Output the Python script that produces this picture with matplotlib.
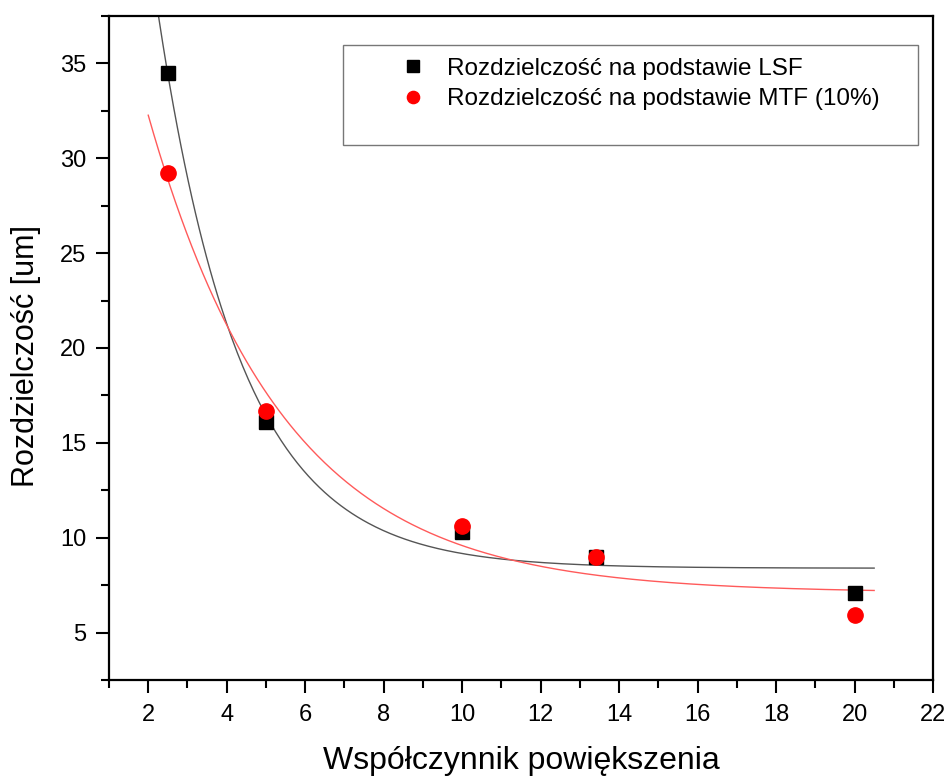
import numpy as np
import matplotlib
matplotlib.use("Agg")
import matplotlib.pyplot as plt
from matplotlib.patches import Rectangle
from matplotlib.ticker import MultipleLocator

plt.rcParams['font.family'] = ['Liberation Sans', 'DejaVu Sans']

# magnification factor vs. resolution [um]
magnification = np.array([2.5, 5.0, 10.0, 13.4, 20.0])
res_lsf = np.array([34.5, 16.1, 10.3, 9.0, 7.1])
res_mtf = np.array([29.2, 16.7, 10.6, 9.0, 5.9])

label_lsf = 'Rozdzielczość na podstawie LSF'
label_mtf = 'Rozdzielczość na podstawie MTF (10%)'
xlabel = 'Współczynnik powiększenia'
ylabel = 'Rozdzielczość [um]'

fit_range = (2.0, 20.5)


def exp_decay_fit(x, y):
    # y = y0 + A * exp(-x / t), least squares: scan t, solve y0 and A linearly
    best = None
    for t in np.linspace(0.5, 12.0, 4000):
        basis = np.column_stack([np.ones_like(x), np.exp(-x / t)])
        coef = np.linalg.lstsq(basis, y, rcond=None)[0]
        sse = np.sum((basis @ coef - y) ** 2)
        if best is None or sse < best[0]:
            best = (sse, coef[0], coef[1], t)
    return best[1:]


fig = plt.figure(figsize=(9.5, 7.8), dpi=100)
ax = fig.add_axes([109 / 950, 1 - 680 / 780, 824 / 950, 664 / 780])

xf = np.linspace(fit_range[0], fit_range[1], 400)
y0, a, t = exp_decay_fit(magnification, res_lsf)
ax.plot(xf, y0 + a * np.exp(-xf / t), color='#555555', lw=1.0, zorder=2)
y0, a, t = exp_decay_fit(magnification, res_mtf)
ax.plot(xf, y0 + a * np.exp(-xf / t), color='#ff5a5a', lw=1.0, zorder=2)

ax.plot(magnification, res_lsf, 's', color='black', ms=10, ls='none',
        label=label_lsf, zorder=3)
ax.plot(magnification, res_mtf, 'o', color='red', ms=11, ls='none',
        label=label_mtf, zorder=4)

ax.set_xlim(1, 22)
ax.set_ylim(2.5, 37.5)
ax.xaxis.set_minor_locator(MultipleLocator(1))
ax.yaxis.set_minor_locator(MultipleLocator(2.5))
ax.set_xticks([2, 4, 6, 8, 10, 12, 14, 16, 18, 20, 22])
ax.set_yticks([5, 10, 15, 20, 25, 30, 35])

ax.tick_params(which='major', direction='out', length=9.5, width=1.5,
               labelsize=17, colors='black')
ax.tick_params(which='minor', direction='out', length=5.5, width=1.5)
ax.tick_params(axis='x', which='major', pad=8)
ax.tick_params(axis='y', which='major', pad=7)
for s in ax.spines.values():
    s.set_linewidth(1.6)

ax.set_xlabel(xlabel, fontsize=23, labelpad=14)
ax.set_ylabel(ylabel, fontsize=22)
ax.yaxis.set_label_coords(-0.082, 0.488)

# legend box
ax.add_patch(Rectangle((0.284, 0.806), 0.698, 0.150, transform=ax.transAxes,
                       fill=False, edgecolor='#777777', lw=1.0, zorder=5))
ax.legend(loc='upper left', bbox_to_anchor=(0.342, 0.952), frameon=False,
          fontsize=17.5, markerscale=0.8, handlelength=1.0, handletextpad=0.9,
          labelspacing=0.35, borderaxespad=0)

fig.savefig('out.png', dpi=100)
